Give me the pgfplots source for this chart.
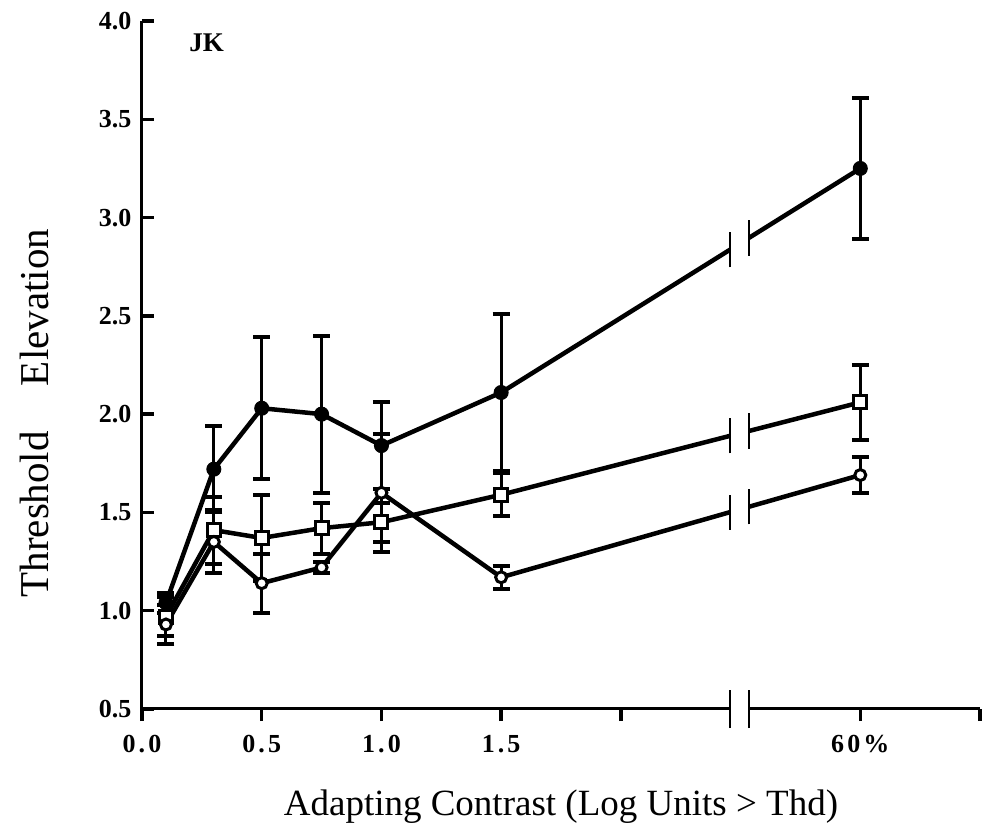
\documentclass[border=0pt]{standalone}
\usepackage{fontspec}
\setmainfont{Liberation Serif}
\usepackage{pgfplots}
\pgfplotsset{compat=1.18}
\begin{document}
\begin{tikzpicture}
\useasboundingbox (-142pt,-117pt) rectangle (845pt,709pt);
\begin{axis}[
 scale only axis, width=838pt, height=688pt,
 xmin=0, xmax=3.5, ymin=0.5, ymax=4.0,
 axis x line*=bottom, axis y line*=left,
 axis line style={line width=3pt},
 xtick={0,0.5,1,1.5,2,3,3.5}, xticklabels={0.0,0.5,1.0,1.5,,60\%,},
 ytick={0.5,1,1.5,2,2.5,3,3.5,4}, yticklabels={0.5,1.0,1.5,2.0,2.5,3.0,3.5,4.0},
 xtick align=outside, ytick align=inside,
 major tick length=12pt,
 tick style={line width=3.5pt, black},
 xticklabel style={font=\bfseries\fontsize{26}{30}\selectfont\addfontfeature{LetterSpace=12}, yshift=-11pt},
 yticklabel style={font=\bfseries\fontsize{26}{30}\selectfont, xshift=-7pt},
 xlabel={Adapting Contrast (Log Units > Thd)},
 ylabel={Threshold\hspace{1.1em}Elevation},
 xlabel style={font=\fontsize{37}{44}\selectfont, at={(axis description cs:0.5,0)}, anchor=base, yshift=-106pt},
 ylabel style={font=\fontsize{41}{48}\selectfont, at={(axis description cs:-0.128,0.43)}, anchor=center},
 clip=false,
 error bars/error bar style={line width=3pt, solid},
 error bars/error mark options={rotate=90, mark size=8.5pt, line width=4pt, solid},
]
% filled circles
\addplot[black, line width=4.5pt, mark=*, mark size=7pt, mark options={fill=black, line width=1pt},
 error bars/.cd, y dir=both, y explicit] coordinates {
 (0.1,1.04) +- (0,0.05)
 (0.3,1.72) +- (0,0.22)
 (0.5,2.03) +- (0,0.36)
 (0.75,2.00) +- (0,0.40)
 (1.0,1.84) +- (0,0.22)
 (1.5,2.11) +- (0,0.40)
 (3.0,3.25) +- (0,0.36)
};
% open squares
\addplot[black, line width=4.5pt, mark=square*, mark size=6.5pt, mark options={fill=white, line width=3pt},
 error bars/.cd, y dir=both, y explicit] coordinates {
 (0.1,0.97) +- (0,0.10)
 (0.3,1.41) +- (0,0.17)
 (0.5,1.37) +- (0,0.22)
 (0.75,1.42) +- (0,0.13)
 (1.0,1.45) +- (0,0.10)
 (1.5,1.59) +- (0,0.11)
 (3.0,2.06) +- (0,0.19)
};
% open circles
\addplot[black, line width=4.5pt, mark=*, mark size=5.5pt, mark options={fill=white, line width=3pt},
 error bars/.cd, y dir=both, y explicit] coordinates {
 (0.1,0.93) +- (0,0.10)
 (0.3,1.35) +- (0,0.16)
 (0.5,1.14) +- (0,0.15)
 (0.75,1.22) +- (0,0.03)
 (1.0,1.60) +- (0,0.30)
 (1.5,1.17) +- (0,0.06)
 (3.0,1.69) +- (0,0.09)
};
% axis break
\fill[white] (axis cs:2.456,0.3) rectangle (axis cs:2.535,4.0);
\begin{scope}[line width=1.8pt]
\draw (axis cs:2.456,0.403) -- (axis cs:2.456,0.597);
\draw (axis cs:2.535,0.403) -- (axis cs:2.535,0.597);
\draw (axis cs:2.456,2.747) -- (axis cs:2.456,2.927);
\draw (axis cs:2.535,2.807) -- (axis cs:2.535,2.987);
\draw (axis cs:2.456,1.800) -- (axis cs:2.456,1.980);
\draw (axis cs:2.535,1.824) -- (axis cs:2.535,2.004);
\draw (axis cs:2.456,1.411) -- (axis cs:2.456,1.591);
\draw (axis cs:2.535,1.439) -- (axis cs:2.535,1.619);
\end{scope}
\node[font=\bfseries\fontsize{27}{32}\selectfont] at (axis cs:0.27,3.89) {JK};
\end{axis}
\end{tikzpicture}
\end{document}
